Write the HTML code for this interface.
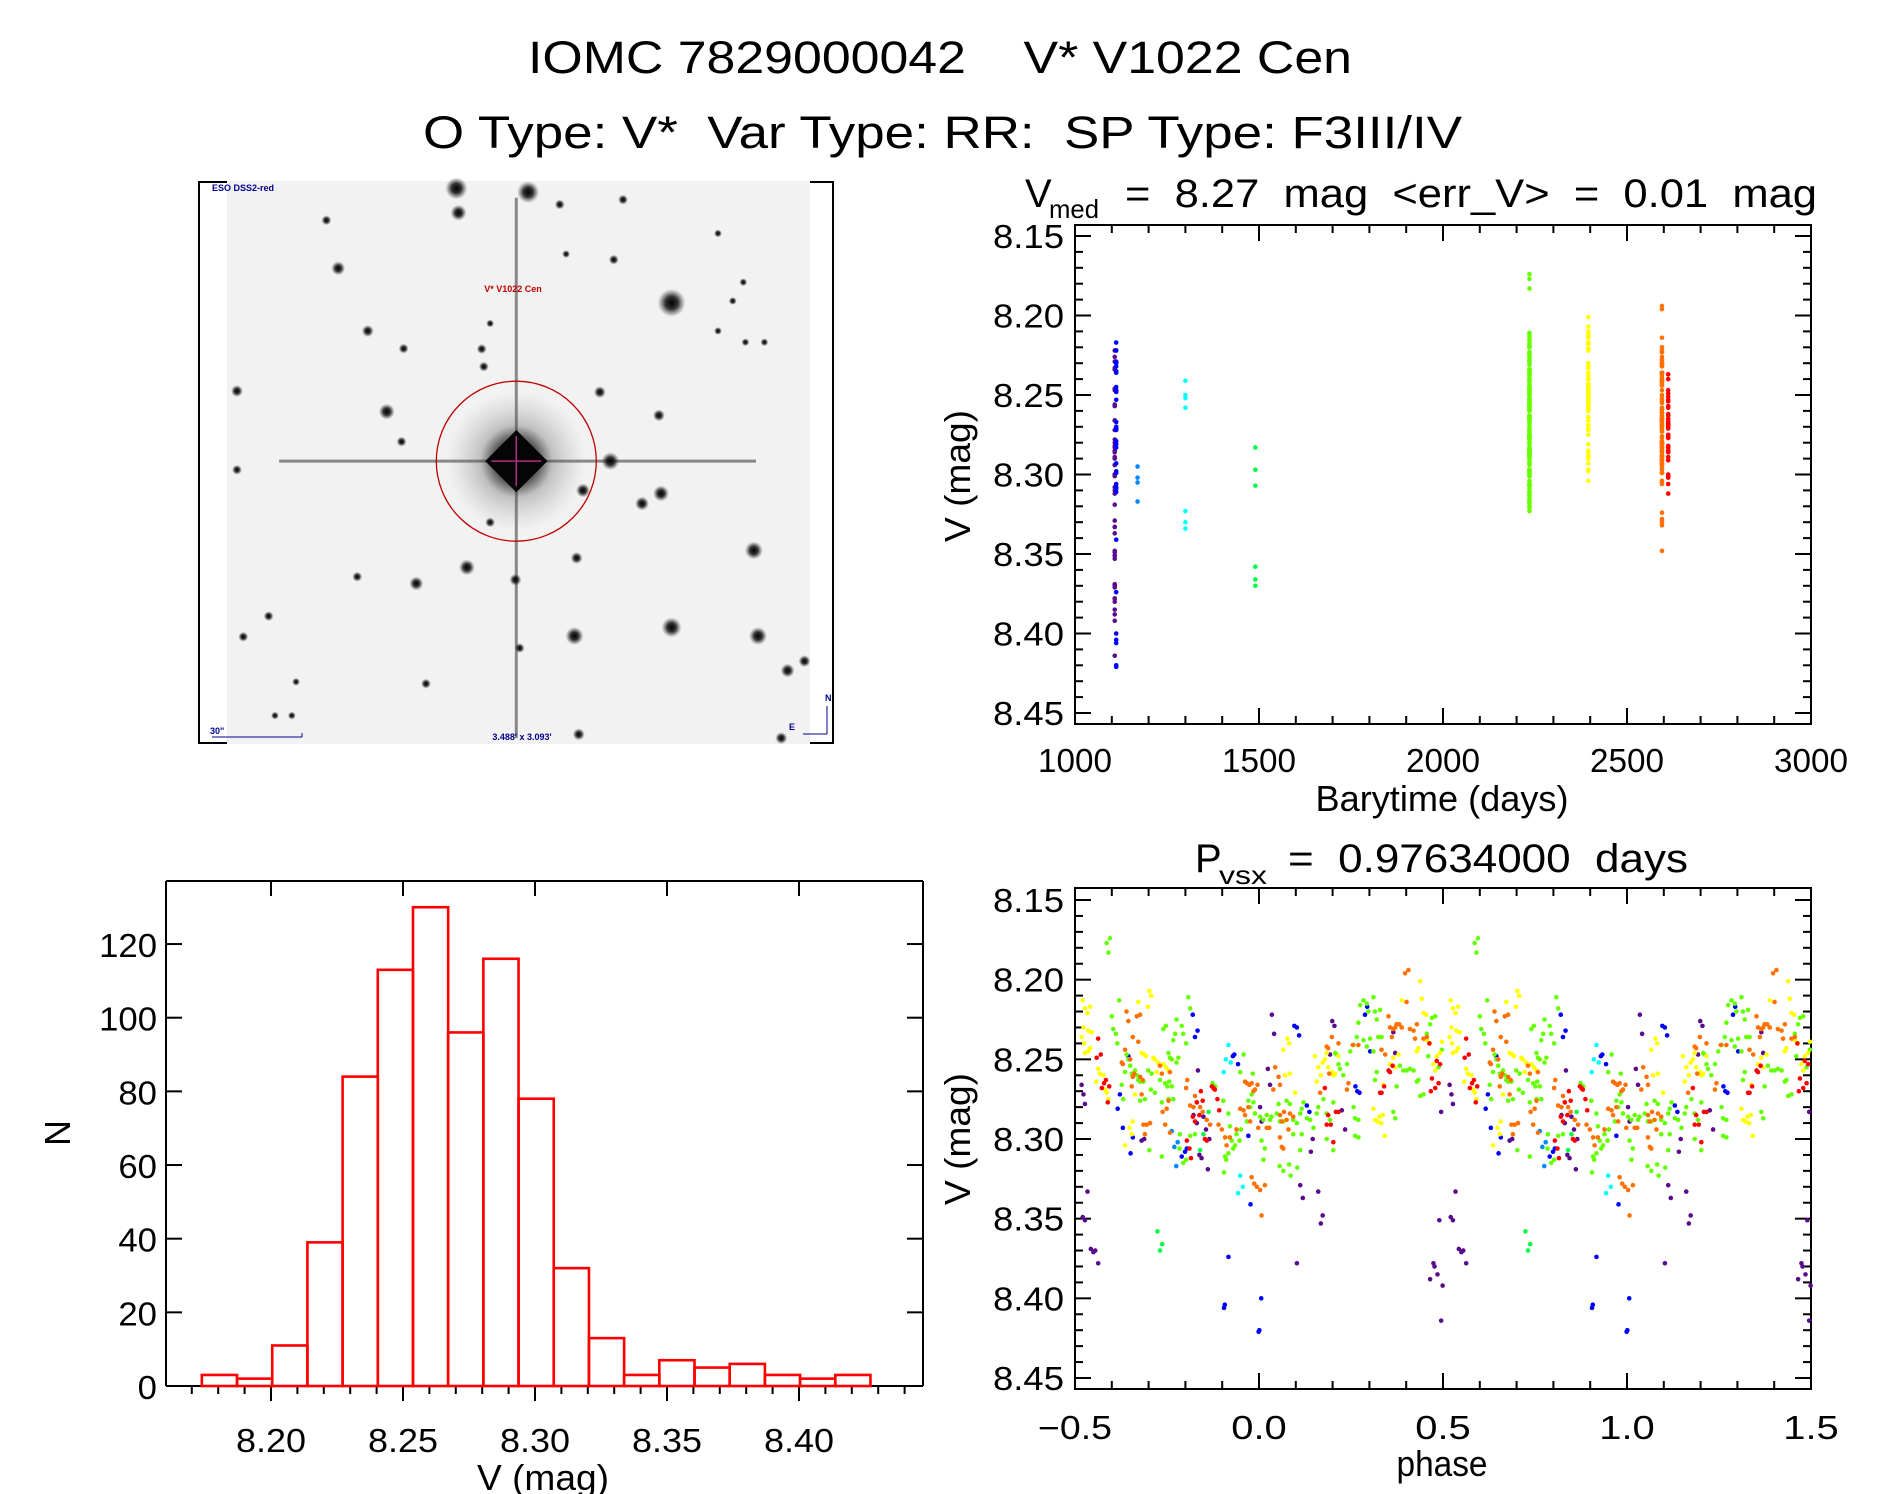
<!DOCTYPE html>
<html><head><meta charset="utf-8"><title>IOMC 7829000042 V* V1022 Cen</title>
<style>
html,body{margin:0;padding:0;background:#fff;}
svg{display:block;font-family:"Liberation Sans",sans-serif;}
</style></head>
<body>
<svg id="fig" width="1889" height="1494" viewBox="0 0 1889 1494" xmlns="http://www.w3.org/2000/svg">
<defs>
<radialGradient id="starg"><stop offset="0" stop-color="#000" stop-opacity="1"/><stop offset="0.45" stop-color="#111" stop-opacity="0.85"/><stop offset="1" stop-color="#444" stop-opacity="0"/></radialGradient>
<radialGradient id="haloG"><stop offset="0" stop-color="#000" stop-opacity="0.6"/><stop offset="1" stop-color="#888" stop-opacity="0"/></radialGradient>
</defs>
<rect x="0" y="0" width="1889" height="1494" fill="#fff"/>
<text x="528" y="73" font-size="45" textLength="824" lengthAdjust="spacingAndGlyphs" xml:space="preserve">IOMC 7829000042    V* V1022 Cen</text>
<text x="423" y="148" font-size="45" textLength="1039" lengthAdjust="spacingAndGlyphs" xml:space="preserve">O Type: V*  Var Type: RR:  SP Type: F3III/IV</text>

<g id="img"></g>
<g id="tp"></g>
<g id="pp"></g>
<g id="hp"></g>

<text x="1025" y="207" font-size="40">V</text>
<text x="1049" y="218" font-size="26" textLength="50" lengthAdjust="spacingAndGlyphs">med</text>
<text x="1125" y="207" font-size="40" textLength="692" lengthAdjust="spacingAndGlyphs" xml:space="preserve">=  8.27  mag  &lt;err_V&gt;  =  0.01  mag</text>
<text x="1195" y="872" font-size="40">P</text>
<text x="1219" y="884" font-size="26" textLength="48" lengthAdjust="spacingAndGlyphs">vsx</text>
<text x="1288" y="872" font-size="40" textLength="400" lengthAdjust="spacingAndGlyphs" xml:space="preserve">=  0.97634000  days</text>

<text x="1442" y="811" font-size="36" text-anchor="middle" textLength="253" lengthAdjust="spacingAndGlyphs">Barytime (days)</text>
<text transform="translate(970,476) rotate(-90)" font-size="36" text-anchor="middle" textLength="132" lengthAdjust="spacingAndGlyphs">V (mag)</text>
<text x="1442" y="1476" font-size="36" text-anchor="middle" textLength="91" lengthAdjust="spacingAndGlyphs">phase</text>
<text transform="translate(970,1139) rotate(-90)" font-size="36" text-anchor="middle" textLength="132" lengthAdjust="spacingAndGlyphs">V (mag)</text>
<text x="543" y="1490" font-size="36" text-anchor="middle" textLength="132" lengthAdjust="spacingAndGlyphs">V (mag)</text>
<text transform="translate(70,1133) rotate(-90)" font-size="36" text-anchor="middle">N</text>
</svg>
<script>
// ---------- DATA ----------
const histBinStart = 8.1738;
const histBinWidth = 0.01333;
const histCounts = [3,2,11,39,84,113,130,96,116,78,32,13,3,7,5,6,3,2,3];
const histXTicks = [8.20,8.25,8.30,8.35,8.40];
const histXTickLabels = ["8.20","8.25","8.30","8.35","8.40"];
const histYTicks = [0,20,40,60,80,100,120];
const histYTickLabels = ["0","20","40","60","80","100","120"];

const magTicks = [8.15,8.20,8.25,8.30,8.35,8.40,8.45];
const magTickLabels = ["8.15","8.20","8.25","8.30","8.35","8.40","8.45"];
const timeTicks = [1000,1500,2000,2500,3000];
const timeTickLabels = ["1000","1500","2000","2500","3000"];
const phaseTicks = [-0.5,0,0.5,1.0,1.5];
const phaseTickLabels = ["\u22120.5","0.0","0.5","1.0","1.5"];

const seasonNames = ["purple","blue","lightblue","cyan","brightgreen","lime","yellow","orange","red"];
const seasonColors = ["#5a0a8c","#0000ff","#0088ff","#00ffff","#00ff44","#66ff00","#ffff00","#ff7000","#ff0000"];
const seasonTimes = [1108,1112,1170,1300,1490,2235,2395,2595,2612];

const purplePhase = [-0.482,-0.477,-0.473,-0.466,-0.479,-0.473,-0.457,-0.450,-0.445,-0.437,-0.319,-0.312,-0.178,-0.169,-0.166,-0.162,-0.156,-0.144,-0.135,-0.139,-0.151,0.003,0.007,0.024,0.030,0.035,0.041,0.103,0.112,0.119,0.141,0.146,0.161,0.173,0.168,0.193,0.199,0.205,0.225,0.234,0.365,0.370,0.465,0.474,0.477,0.485,0.490,0.495,0.495,0.499];
const purpleMag = [8.266,8.272,8.278,8.333,8.349,8.351,8.369,8.371,8.370,8.378,8.301,8.300,8.285,8.290,8.257,8.310,8.312,8.294,8.300,8.319,8.286,8.280,8.289,8.256,8.266,8.222,8.234,8.378,8.329,8.337,8.308,8.300,8.333,8.348,8.353,8.247,8.226,8.229,8.282,8.294,8.233,8.246,8.388,8.378,8.380,8.385,8.351,8.283,8.414,8.392];
const bluePhase = [-0.355,-0.378,-0.384,-0.370,-0.343,-0.349,-0.180,-0.167,-0.174,-0.210,-0.201,-0.196,-0.083,-0.071,-0.067,-0.057,-0.029,-0.023,0.006,0.096,0.103,0.109,0.130,0.137,0.262,0.267,0.273,0.288,0.294,0.302,-0.095,-0.093,-0.001,0.001];
const blueMag = [8.248,8.272,8.281,8.293,8.299,8.309,8.222,8.232,8.236,8.311,8.308,8.306,8.374,8.248,8.247,8.253,8.298,8.341,8.400,8.229,8.230,8.235,8.279,8.283,8.267,8.270,8.271,8.222,8.217,8.245,8.406,8.404,8.421,8.420];
const lightbluePhase = [-0.237,-0.221,-0.225,-0.230];
const lightblueMag = [8.295,8.302,8.317,8.305];
const cyanPhase = [-0.083,-0.090,-0.077,-0.096,-0.051,-0.044,-0.057];
const cyanMag = [8.241,8.250,8.252,8.258,8.323,8.330,8.334];
const brightgreenPhase = [-0.276,-0.269,-0.263,-0.151,-0.137,-0.160];
const brightgreenMag = [8.358,8.370,8.366,8.297,8.283,8.307];
const limePhase = [-0.414,-0.405,-0.409,-0.380,-0.400,-0.396,-0.389,-0.385,-0.360,-0.355,-0.350,-0.364,-0.346,-0.337,-0.332,-0.328,-0.323,-0.314,-0.373,-0.369,-0.323,-0.310,-0.301,-0.292,-0.294,-0.283,-0.269,-0.264,-0.260,-0.253,-0.246,-0.242,-0.237,-0.233,-0.228,-0.224,-0.219,-0.224,-0.210,-0.206,-0.198,-0.192,-0.187,-0.255,-0.249,-0.244,-0.237,-0.233,-0.246,-0.264,-0.298,-0.215,-0.216,-0.206,-0.198,-0.187,-0.174,-0.126,-0.119,-0.097,-0.083,-0.079,-0.074,-0.070,-0.083,-0.092,-0.089,-0.095,-0.065,-0.061,-0.053,-0.049,-0.042,-0.051,-0.033,-0.029,-0.024,-0.020,-0.015,-0.017,-0.011,0.007,0.003,0.012,0.016,0.012,0.021,0.030,0.034,0.048,0.053,0.057,0.066,0.075,0.084,0.093,0.103,0.112,0.116,0.121,0.130,0.139,0.148,0.157,0.161,0.175,0.184,0.193,0.202,0.207,0.211,0.216,0.220,0.229,0.239,0.248,0.257,0.266,0.270,0.275,0.284,0.293,0.297,0.311,0.315,0.320,0.324,0.329,0.333,0.284,0.293,0.302,0.311,0.315,0.320,0.257,0.261,0.270,0.261,0.270,0.184,0.202,0.116,0.112,0.093,0.056,0.066,0.082,0.086,0.104,0.365,0.370,0.374,0.383,0.392,0.401,0.410,0.420,0.429,0.433,0.438,0.447,0.456,0.465,0.470,0.479,0.460,0.488,0.497];
const limeMag = [8.177,8.174,8.183,8.213,8.223,8.231,8.234,8.240,8.247,8.250,8.254,8.258,8.259,8.257,8.260,8.263,8.264,8.264,8.266,8.275,8.276,8.275,8.257,8.259,8.269,8.271,8.263,8.277,8.231,8.229,8.246,8.249,8.250,8.238,8.234,8.225,8.249,8.252,8.229,8.234,8.240,8.211,8.218,8.265,8.267,8.264,8.267,8.275,8.275,8.311,8.307,8.297,8.306,8.315,8.313,8.298,8.297,8.265,8.267,8.276,8.284,8.292,8.301,8.306,8.309,8.311,8.313,8.321,8.304,8.297,8.301,8.294,8.247,8.258,8.289,8.276,8.280,8.272,8.277,8.259,8.284,8.301,8.286,8.288,8.306,8.313,8.285,8.288,8.286,8.284,8.278,8.289,8.289,8.276,8.278,8.288,8.290,8.284,8.281,8.277,8.287,8.288,8.293,8.284,8.280,8.275,8.284,8.288,8.277,8.246,8.247,8.253,8.256,8.260,8.253,8.245,8.241,8.236,8.227,8.216,8.213,8.215,8.220,8.211,8.220,8.225,8.236,8.219,8.236,8.238,8.242,8.237,8.245,8.263,8.258,8.280,8.287,8.288,8.298,8.299,8.300,8.307,8.297,8.307,8.297,8.317,8.320,8.316,8.323,8.318,8.283,8.287,8.267,8.254,8.257,8.257,8.256,8.257,8.264,8.263,8.273,8.272,8.234,8.228,8.224,8.223,8.248,8.255,8.244];
const yellowPhase = [-0.479,-0.473,-0.466,-0.459,-0.477,-0.464,-0.455,-0.482,-0.475,-0.473,-0.464,-0.459,-0.443,-0.437,-0.432,-0.423,-0.418,-0.414,-0.409,-0.364,-0.352,-0.346,-0.343,-0.337,-0.328,-0.323,-0.302,-0.298,-0.293,-0.319,-0.312,-0.307,-0.287,-0.283,-0.274,-0.278,-0.260,-0.253,-0.246,0.066,0.071,0.077,0.082,0.084,0.098,0.152,0.157,0.161,0.168,0.173,0.179,0.184,0.188,0.198,0.202,0.207,0.216,0.311,0.315,0.322,0.327,0.332,0.336,0.342,0.338,0.356,0.365,0.370,0.379,0.388,0.429,0.433,0.438,0.442,0.447,0.454,0.456,0.465,0.474,0.479,0.483,0.492,0.497];
const yellowMag = [8.213,8.218,8.221,8.217,8.230,8.232,8.233,8.236,8.240,8.246,8.245,8.243,8.264,8.256,8.259,8.260,8.269,8.271,8.275,8.304,8.293,8.297,8.289,8.272,8.214,8.222,8.217,8.207,8.210,8.246,8.247,8.248,8.249,8.250,8.252,8.258,8.253,8.255,8.257,8.244,8.260,8.237,8.240,8.259,8.271,8.248,8.264,8.255,8.260,8.252,8.250,8.246,8.255,8.258,8.260,8.259,8.248,8.281,8.288,8.289,8.286,8.290,8.285,8.298,8.266,8.253,8.249,8.255,8.247,8.213,8.245,8.243,8.201,8.212,8.221,8.222,8.238,8.240,8.253,8.257,8.248,8.246,8.239];
const orangePhase = [-0.360,-0.355,-0.332,-0.323,-0.343,-0.328,-0.364,-0.373,-0.370,-0.350,-0.343,-0.339,-0.323,-0.316,-0.346,-0.319,-0.314,-0.305,-0.296,-0.310,-0.269,-0.264,-0.242,-0.262,-0.251,-0.246,-0.242,-0.255,-0.195,-0.198,-0.187,-0.178,-0.174,-0.169,-0.160,-0.153,-0.142,-0.133,-0.110,-0.101,-0.092,-0.088,-0.079,-0.061,-0.051,-0.042,-0.038,-0.033,-0.026,-0.020,-0.015,-0.011,-0.004,-0.038,-0.029,-0.024,-0.002,0.021,0.028,0.044,0.053,0.057,0.039,0.057,0.062,0.068,0.075,0.080,0.084,0.093,0.057,0.062,0.066,-0.020,-0.013,-0.006,0.003,0.016,0.007,0.166,0.184,0.188,0.191,0.198,0.216,0.239,0.243,0.255,0.270,0.333,0.343,0.352,0.356,0.361,0.365,0.370,0.374,0.381,0.388,0.397,0.406,0.401,0.410,0.420,0.424,0.429,0.447,0.456];
const orangeMag = [8.220,8.226,8.223,8.222,8.236,8.239,8.244,8.252,8.253,8.250,8.261,8.259,8.261,8.263,8.267,8.272,8.291,8.291,8.290,8.297,8.254,8.259,8.258,8.283,8.281,8.276,8.296,8.291,8.263,8.268,8.279,8.280,8.273,8.277,8.280,8.283,8.288,8.291,8.291,8.294,8.299,8.304,8.299,8.294,8.281,8.282,8.264,8.265,8.266,8.265,8.270,8.269,8.266,8.285,8.280,8.289,8.293,8.293,8.293,8.255,8.261,8.266,8.269,8.285,8.289,8.283,8.288,8.294,8.284,8.286,8.299,8.305,8.306,8.324,8.328,8.330,8.332,8.329,8.348,8.271,8.242,8.243,8.259,8.236,8.240,8.269,8.265,8.241,8.241,8.244,8.247,8.223,8.230,8.236,8.231,8.230,8.228,8.228,8.230,8.196,8.194,8.214,8.231,8.232,8.237,8.228,8.237,8.236];
const redPhase = [-0.437,-0.441,-0.430,-0.421,-0.416,-0.407,-0.411,-0.427,-0.196,-0.189,-0.185,-0.180,-0.174,-0.169,-0.162,-0.158,-0.153,-0.147,-0.142,-0.128,-0.124,-0.120,-0.113,-0.108,0.179,0.188,0.184,0.195,0.202,0.209,0.216,0.329,0.333,0.340,0.352,0.356,0.363,0.463,0.483,0.492,0.470,0.479,0.488,0.467];
const redMag = [8.237,8.249,8.247,8.265,8.263,8.267,8.277,8.268,8.301,8.306,8.312,8.286,8.289,8.277,8.285,8.270,8.276,8.300,8.301,8.267,8.268,8.269,8.275,8.282,8.268,8.285,8.291,8.291,8.302,8.283,8.283,8.271,8.271,8.267,8.257,8.258,8.254,8.240,8.251,8.253,8.262,8.268,8.265,8.270];

const seasonPhases = [purplePhase,bluePhase,lightbluePhase,cyanPhase,brightgreenPhase,limePhase,yellowPhase,orangePhase,redPhase];
const seasonMags = [purpleMag,blueMag,lightblueMag,cyanMag,brightgreenMag,limeMag,yellowMag,orangeMag,redMag];

// ---------- HELPERS ----------
const NS = 'http://www.w3.org/2000/svg';
function el(tag, attrs, parent){
  const e = document.createElementNS(NS, tag);
  for (const k in attrs) e.setAttribute(k, attrs[k]);
  parent.appendChild(e);
  return e;
}
function line(p, x1,y1,x2,y2,w,c){ return el('line',{x1:x1,y1:y1,x2:x2,y2:y2,stroke:c||'#000','stroke-width':w||2},p); }

// ---------- AXES ----------
const TP = {x0:1075,x1:1811,y0:225,y1:724};
const PP = {x0:1075,x1:1811,y0:888,y1:1389};
const tX = t => TP.x0 + (t-1000)/2000*(TP.x1-TP.x0);
const tY = m => 236 + (m-8.15)/0.3*477;
const pX = p => PP.x0 + (p+0.5)/2*(PP.x1-PP.x0);
const pY = m => 900 + (m-8.15)/0.3*478;
const HB = {x0:166,x1:923,y0:881,y1:1386};
const hX = v => 271 + (v-8.20)/0.2*528;
const hY = n => 1386 - n*3.683;

function magAxisFrame(g, B, yf, xTicks, xLabels, xf, minorStep, xStart, xEnd, labelBase){
  const box = el('rect',{x:B.x0,y:B.y0,width:B.x1-B.x0,height:B.y1-B.y0,fill:'none',stroke:'#000','stroke-width':2},g);
  
  
  const tk = el('g',{stroke:'#000','stroke-width':2},g);
  
  
  for (let m=8.15; m<=8.4501; m+=0.01){
    const y = yf(m); const major = Math.abs(Math.round(m*20)-m*20)<1e-6;
    const L = major?16:8;
    line(tk,B.x0,y,B.x0+L,y); line(tk,B.x1,y,B.x1-L,y);
  }
  for (let v=xStart; v<=xEnd+1e-9; v+=minorStep){
    const x = xf(v);
    const major = xTicks.some(t=>Math.abs(t-v)<1e-6);
    const L = major?16:8;
    line(tk,x,B.y1,x,B.y1-L); line(tk,x,B.y0,x,B.y0+L);
  }
  magTicks.forEach((m,i)=>{
    const t = el('text',{x:1064,y:yf(m)+12,'font-size':33,'text-anchor':'end',textLength:71,lengthAdjust:'spacingAndGlyphs'},g);
    t.textContent = magTickLabels[i];
    
    
  });
  xTicks.forEach((v,i)=>{
    const s = xLabels[i];
    const t = el('text',{x:xf(v),y:labelBase,'font-size':33,'text-anchor':'middle',textLength:s.length*18.5,lengthAdjust:'spacingAndGlyphs'},g);
    t.textContent = s;
    
    
  });
}

// ---------- TIME PLOT ----------
const tp = document.getElementById('tp');
magAxisFrame(tp, TP, tY, timeTicks, timeTickLabels, tX, 100, 1000, 3000, 772);
seasonNames.forEach((nm, s)=>{
  const g = el('g',{fill:seasonColors[s]},tp);
  
  
  seasonMags[s].forEach((m)=>{
    const c = el('circle',{cx:tX(seasonTimes[s]),cy:tY(m),r:2.3},g);
    
    
  });
});

// ---------- PHASE PLOT ----------
const pp = document.getElementById('pp');
magAxisFrame(pp, PP, pY, phaseTicks, phaseTickLabels, pX, 0.1, -0.5, 1.5, 1439);
seasonNames.forEach((nm, s)=>{
  const g = el('g',{fill:seasonColors[s]},pp);
  
  
  seasonPhases[s].forEach((p,i)=>{
    [p, p+1].forEach(q=>{
      if (q < -0.5 || q > 1.5) return;
      const c = el('circle',{cx:pX(q),cy:pY(seasonMags[s][i]),r:2.3},g);
      
      
    });
  });
});

// ---------- HISTOGRAM ----------
const hp = document.getElementById('hp');
(function(){
  const fr = el('g',{stroke:'#000','stroke-width':2},hp);
  
  
  line(fr,HB.x0,HB.y0,HB.x1,HB.y0); line(fr,HB.x0,HB.y0,HB.x0,HB.y1);
  line(fr,HB.x1,HB.y0,HB.x1,HB.y1); line(fr,HB.x0,HB.y1,HB.x1,HB.y1);
  for (let v=8.17; v<=8.4401; v+=0.01){
    const major = histXTicks.some(t=>Math.abs(t-v)<1e-6);
    line(fr,hX(v),HB.y1,hX(v),HB.y1+(major?15:8));
    if (major) line(fr,hX(v),HB.y0,hX(v),HB.y0+15);
  }
  histYTicks.forEach(n=>{ line(fr,HB.x0,hY(n),HB.x0+16,hY(n)); line(fr,HB.x1,hY(n),HB.x1-16,hY(n)); });
  histXTicks.forEach((v,i)=>{
    const t = el('text',{x:hX(v),y:1452,'font-size':33,'text-anchor':'middle',textLength:70,lengthAdjust:'spacingAndGlyphs'},hp);
    t.textContent = histXTickLabels[i];
    
    
  });
  histYTicks.forEach((n,i)=>{
    const s = histYTickLabels[i];
    const t = el('text',{x:157,y:hY(n)+13,'font-size':33,'text-anchor':'end',textLength:s.length*19.3,lengthAdjust:'spacingAndGlyphs'},hp);
    t.textContent = s;
    
    
  });
  const bars = el('g',{fill:'none',stroke:'#ff0000','stroke-width':2.6},hp);
  
  
  histCounts.forEach((n,i)=>{
    const a = histBinStart + i*histBinWidth, b = a + histBinWidth;
    const r = el('rect',{x:hX(a),y:hY(n),width:hX(b)-hX(a),height:hY(0)-hY(n)},bars);
    
    
  });
})();

// ---------- SKY IMAGE ----------
const img = document.getElementById('img');
(function(){
  const fr = el('rect',{x:199,y:182,width:634,height:561,fill:'none',stroke:'#000','stroke-width':2},img);
  
  
  const bg = el('rect',{x:227,y:181,width:583,height:563,fill:'#f2f2f2'},img);
  
  
  const sx = zx => 199 + (zx-10)/2.37, sy = zy => 182 + (zy-18)/2.665;
  const sp = el('g',{},img);
  
  
  line(sp,sx(200),sy(762),sx(1330),sy(762),3,'#888');
  line(sp,sx(762),sy(60),sx(762),sy(1500),3,'#888');
  const starPos = [[620,35,11],[790,45,11],[625,100,8],[1130,340,14],[340,248,7],[960,578,6],[985,762,9],[1105,848,8],[1060,875,7],[920,840,7],[1325,1000,9],[900,1228,9],[1335,1228,9],[1130,1205,10],[1405,1320,7],[1445,1295,6],[645,1045,8],[525,1088,7],[760,1078,6],[455,630,8],[410,415,6],[495,462,5],[680,463,5],[685,510,5],[100,575,6],[1100,640,6],[993,225,5],[865,78,5],[1015,65,5],[100,785,5],[385,1070,5],[770,1260,5],[548,1355,5],[910,1490,6],[175,1175,5],[115,1230,5],[1240,155,4],[1305,445,4],[1350,445,4],[1240,415,4],[880,210,4],[700,395,4],[490,710,5],[700,925,5],[905,1020,6],[1275,335,4],[1300,285,4],[312,120,5],[230,1440,4],[190,1440,4],[240,1350,4],[1390,1500,6]];
  starPos.forEach(s=>{
    const c = el('circle',{cx:sx(s[0]),cy:sy(s[1]),r:s[2],fill:'url(#starg)'},img);
    
    
  });
  const cx = sx(762), cy = sy(762);
  const halo = el('circle',{cx:cx,cy:cy,r:70,fill:'url(#haloG)'},img);
  
  
  const dia = el('rect',{x:cx-36,y:cy-36,width:72,height:72,fill:'url(#starg)',transform:'rotate(45 '+cx+' '+cy+')'},img);
  
  
  const core = el('rect',{x:cx-22,y:cy-22,width:44,height:44,fill:'#050505',transform:'rotate(45 '+cx+' '+cy+')'},img);
  
  
  const cr = el('g',{},img);
  
  
  line(cr,cx-25,cy,cx+25,cy,1.5,'#b0308a'); line(cr,cx,cy-25,cx,cy+25,1.5,'#b0308a');
  const ring = el('circle',{cx:cx,cy:cy,r:80,fill:'none',stroke:'#c00000','stroke-width':1.3},img);
  
  
  const labels = [[212,191,'ESO DSS2-red','#000090','start'],[513,292,'V* V1022 Cen','#c00000','middle'],[210,734,'30"','#000090','start'],[522,740,"3.488' x 3.093'",'#000090','middle'],[789,730,'E','#000090','start'],[825,701,'N','#000090','start']];
  labels.forEach(l=>{
    const t = el('text',{x:l[0],y:l[1],'font-size':9,fill:l[3],'text-anchor':l[4],'font-weight':'bold'},img);
    t.textContent = l[2];
    
    
  });
  const sb = el('g',{},img);
  
  
  line(sb,212,737,302,737,1,'#000090'); line(sb,302,733,302,737,1,'#000090');
  line(sb,827,734,827,706,1,'#000090'); line(sb,827,734,803,734,1,'#000090');
})();
</script>
</body></html>
